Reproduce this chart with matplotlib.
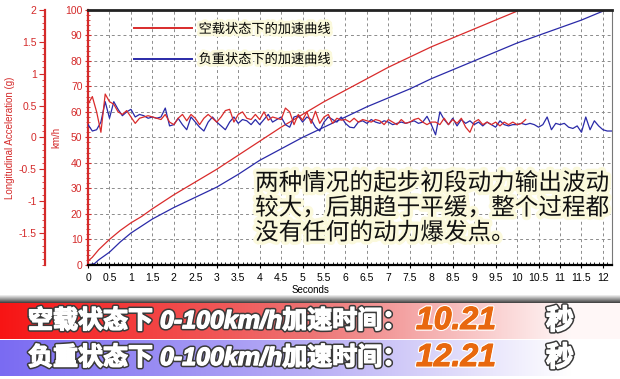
import numpy as np
import matplotlib
matplotlib.use('Agg')
import matplotlib.pyplot as plt
import matplotlib.patheffects as pe
from matplotlib.ticker import MultipleLocator, FuncFormatter

plt.rcParams['font.family'] = ['Liberation Sans', 'Noto Sans CJK SC', 'DejaVu Sans']

# 车速曲线 (km/h)
t_speed_empty = [0, 0.1, 0.25, 0.5, 0.75, 1, 1.25, 1.5, 2, 2.5, 3, 3.5, 4, 4.5, 5,
                 5.5, 6, 6.5, 7, 7.5, 8, 8.5, 9, 9.5, 10, 10.2]
speed_empty = [1.5, 3, 6, 10, 13.5, 16.5, 19, 22, 27.5, 32.5, 37.5, 43, 48.5, 54, 59,
               64, 68.5, 73, 77.5, 81.5, 85.5, 89, 92.5, 96, 99.5, 101]

t_speed_loaded = [0, 0.15, 0.25, 0.5, 0.75, 1, 1.5, 2, 2.5, 3, 3.5, 4, 4.5, 5, 5.5,
                  6, 6.5, 7, 7.5, 8, 8.5, 9, 9.5, 10, 10.5, 11, 11.5, 12, 12.2]
speed_loaded = [0, 0.5, 2, 5, 9, 12.5, 18, 22.5, 26.5, 30.5, 35.5, 41, 45.5, 50, 54,
                58, 62, 65.5, 69, 73, 76.5, 80, 83.5, 87, 90, 93, 96, 99.5, 101]

# 纵向加速度 (g)，每 0.1 秒一个点
acc_step = 0.1
acc_empty = [0.52, 0.64, 0.40, 0.08, 0.68, 0.56, 0.52, 0.40, 0.36, 0.42,
             0.32, 0.22, 0.30, 0.32, 0.34, 0.32, 0.30, 0.28, 0.36, 0.24,
             0.20, 0.30, 0.36, 0.26, 0.36, 0.30, 0.20, 0.30, 0.36, 0.30,
             0.24, 0.32, 0.42, 0.44, 0.24, 0.36, 0.40, 0.30, 0.28, 0.36,
             0.28, 0.40, 0.27, 0.32, 0.30, 0.28, 0.46, 0.40, 0.20, 0.36,
             0.27, 0.40, 0.22, 0.41, 0.22, 0.32, 0.36, 0.22, 0.30, 0.27,
             0.28, 0.24, 0.30, 0.24, 0.28, 0.26, 0.24, 0.28, 0.26, 0.20,
             0.28, 0.24, 0.20, 0.28, 0.22, 0.24, 0.28, 0.30, 0.24, 0.20,
             0.24, 0.24, 0.20, 0.30, 0.20, 0.28, 0.22, 0.30, 0.16, 0.08,
             0.24, 0.28, 0.20, 0.24, 0.20, 0.24, 0.18, 0.24, 0.20, 0.24,
             0.20, 0.22, 0.28]
acc_loaded = [0.20, 0.10, 0.12, 0.24, 0.56, 0.30, 0.56, 0.44, 0.34, 0.40,
              0.44, 0.32, 0.36, 0.34, 0.30, 0.32, 0.30, 0.32, 0.46, 0.18,
              0.20, 0.30, 0.20, 0.12, 0.32, 0.24, 0.16, 0.10, 0.24, 0.32,
              0.24, 0.18, 0.12, 0.24, 0.32, 0.22, 0.28, 0.26, 0.20, 0.28,
              0.20, 0.28, 0.36, 0.24, 0.28, 0.32, 0.20, 0.16, 0.32, 0.34,
              0.24, 0.32, 0.28, 0.16, 0.10, 0.24, 0.32, 0.28, 0.24, 0.32,
              0.22, 0.16, 0.15, 0.24, 0.26, 0.22, 0.28, 0.24, 0.22, 0.26,
              0.24, 0.20, 0.22, 0.24, 0.22, 0.24, 0.26, 0.22, 0.24, 0.33,
              0.20, 0.04, 0.40, 0.28, 0.20, 0.30, 0.18, 0.28, 0.22, 0.26,
              0.20, 0.24, 0.18, 0.24, 0.20, 0.16, 0.26, 0.20, 0.18, 0.20,
              0.20, 0.22, 0.20, 0.22, 0.20, 0.16, 0.20, 0.32, 0.12, 0.22,
              0.20, 0.22, 0.16, 0.14, 0.18, 0.08, 0.32, 0.12, 0.26, 0.18,
              0.12, 0.10, 0.10]

labels = ['空载状态下的加速曲线', '负重状态下的加速曲线']
note = '两种情况的起步初段动力输出波动\n较大，后期趋于平缓，整个过程都\n没有任何的动力爆发点。'
banner_prefix = ['空载状态下 0-100km/h加速时间：', '负重状态下 0-100km/h加速时间：']
banner_time = ['10.21', '12.21']

RED = '#d92b2b'
BLUE = '#2a2aa8'
AXRED = '#d42a2a'

fig = plt.figure(figsize=(6.2, 3.79), dpi=100)
fig.patch.set_facecolor('white')

ax = fig.add_axes([0.142, 0.301, 0.845, 0.673])
ax2 = ax.twinx()

# 车速
l1, = ax.plot(t_speed_empty, speed_empty, color=RED, lw=0.9)
l2, = ax.plot(t_speed_loaded, speed_loaded, color=BLUE, lw=0.9)

# 加速度
t_acc_e = np.arange(len(acc_empty)) * acc_step
t_acc_l = np.arange(len(acc_loaded)) * acc_step
ax2.plot(t_acc_l, acc_loaded, color=BLUE, lw=0.9)
ax2.plot(t_acc_e, acc_empty, color=RED, lw=0.9)

ax.set_xlim(0, 12.21)
ax.set_ylim(0, 100)
ax2.set_ylim(-2, 2)

ax.xaxis.set_major_locator(MultipleLocator(0.5))
ax.xaxis.set_minor_locator(MultipleLocator(0.1))
ax.xaxis.set_major_formatter(FuncFormatter(lambda v, p: '%g' % v))
ax.yaxis.set_major_locator(MultipleLocator(10))
ax.yaxis.set_minor_locator(MultipleLocator(2))
ax.grid(True, which='major', ls=(0, (3, 3)), color='#8c8c8c', lw=0.7)
ax.set_axisbelow(True)

ax.tick_params(axis='x', which='major', direction='inout', length=5, labelsize=7.5,
               color='black', pad=3)
ax.tick_params(axis='x', which='minor', direction='in', length=2.5, color='black')
ax.tick_params(axis='y', which='major', direction='inout', length=5, labelsize=7.5,
               color=AXRED, labelcolor=AXRED, pad=1.5)
ax.tick_params(axis='y', which='minor', direction='inout', length=2.5, color=AXRED)

ax.spines['top'].set_linewidth(2)
ax.spines['top'].set_color('#222222')
ax.spines['bottom'].set_linewidth(1.6)
ax.spines['bottom'].set_color('black')
ax.spines['left'].set_linewidth(1.6)
ax.spines['left'].set_color(AXRED)
ax.spines['right'].set_color('#777777')

ax.set_ylabel('km/h', color=AXRED, fontsize=7)
ax.yaxis.set_label_coords(-0.05, 0.5)
ax.set_xlabel('Seconds', fontsize=7)
ax.xaxis.set_label_coords(0.424, -0.08)

# 加速度轴放在左侧
ax2.spines['right'].set_visible(False)
ax2.spines['top'].set_visible(False)
ax2.spines['bottom'].set_visible(False)
ax2.spines['left'].set_visible(True)
ax2.spines['left'].set_position(('axes', -0.082))
ax2.spines['left'].set_color(AXRED)
ax2.spines['left'].set_linewidth(1.6)
ax2.yaxis.set_ticks_position('left')
ax2.yaxis.set_label_position('left')
ax2.set_yticks([-1.5, -1, -0.5, 0, 0.5, 1, 1.5, 2])
ax2.yaxis.set_major_formatter(FuncFormatter(lambda v, p: '%g' % v))
ax2.yaxis.set_minor_locator(MultipleLocator(0.1))
ax2.tick_params(axis='y', which='major', direction='out', length=4, labelsize=7.5,
                color=AXRED, labelcolor=AXRED, pad=2)
ax2.tick_params(axis='y', which='minor', direction='out', length=2, color=AXRED)
ax2.set_ylabel('Longitudinal Acceleration (g)', color=AXRED, fontsize=7)
ax2.yaxis.set_label_coords(-0.139, 0.5)

# 图例
leg = ax.legend([l1, l2], labels, loc='upper left', bbox_to_anchor=(0.065, 0.995),
                frameon=False, handlelength=4.4, handletextpad=0.5,
                labelspacing=1.3, prop={'family': ['Noto Sans CJK SC'], 'size': 9.5})
for h in leg.get_lines():
    h.set_linewidth(1.4)
for tx in leg.get_texts():
    tx.set_path_effects([pe.withStroke(linewidth=4, foreground='#fbf9dc')])

# 说明文字
fig.text(255 / 620, 1 - 172 / 379, note, fontsize=17, va='top', ha='left',
         family=['Noto Sans CJK SC'], linespacing=1.1, color='#111111', zorder=10,
         path_effects=[pe.withStroke(linewidth=5, foreground='#fbf9dc')])

# 底部色带
def band(y_top, y_bot, left, mid, right):
    bax = fig.add_axes([0, 1 - y_bot / 379, 1, (y_bot - y_top) / 379])
    x = np.linspace(0, 1, 400)
    cols = np.zeros((1, 400, 3))
    for c in range(3):
        cols[0, :, c] = np.interp(x, [0, 0.5, 0.92], [left[c], mid[c], right[c]])
    bax.imshow(cols, aspect='auto', extent=[0, 1, 0, 1])
    bax.set_axis_off()

shadow = fig.add_axes([0, 1 - 303 / 379, 1, 8 / 379])
grad = np.linspace(0.95, 0.25, 20)[:, None] * np.ones((1, 10))
shadow.imshow(np.dstack([grad] * 3), aspect='auto', extent=[0, 1, 0, 1])
shadow.set_axis_off()

band(303, 339, (0.97, 0.08, 0.08), (0.93, 0.45, 0.45), (1.0, 0.97, 0.97))
band(340, 376, (0.48, 0.42, 0.95), (0.72, 0.68, 0.96), (1.0, 1.0, 1.0))

outline = [pe.withStroke(linewidth=3.2, foreground='#3a3a3a'),
           pe.withStroke(linewidth=1.0, foreground='white')]
outline_num = [pe.withStroke(linewidth=2.5, foreground='white'),
               pe.withStroke(linewidth=0.8, foreground='#e8680f')]
for i, yc in enumerate([321, 358]):
    fig.text(28 / 620, 1 - yc / 379, banner_prefix[i], fontsize=18, fontweight='bold',
             fontstyle='italic', color='white', va='center', ha='left',
             path_effects=outline, zorder=20)
    fig.text(416 / 620, 1 - yc / 379, banner_time[i], fontsize=23, fontweight='bold',
             fontstyle='italic', color='#e8680f', va='center', ha='left',
             path_effects=outline_num, zorder=20)
    fig.text(546 / 620, 1 - yc / 379, '秒', fontsize=20, fontweight='bold',
             color='white', va='center', ha='left', family=['Noto Sans CJK SC'],
             path_effects=outline, zorder=20)

fig.savefig('out.png', dpi=100)
